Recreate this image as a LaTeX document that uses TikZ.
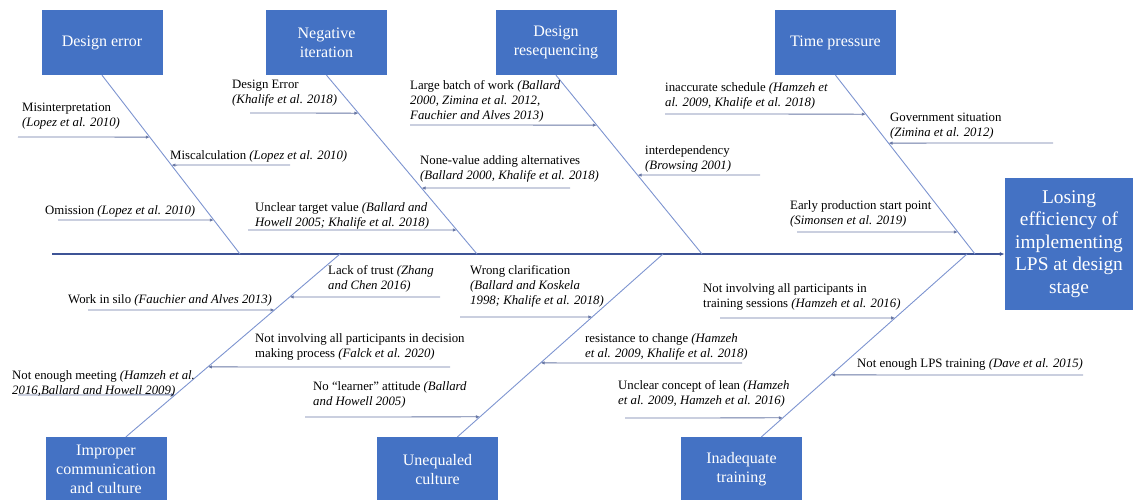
\documentclass[tikz,border=0pt]{standalone}
\usepackage{fontspec}
\setmainfont{Liberation Serif}
\usetikzlibrary{arrows.meta,calc}

\begin{document}
\begin{tikzpicture}[x=1pt,y=-1pt,
    topic/.style={fill=topiccolor, draw=none, text=white, align=center,
        minimum width=121pt, minimum height=65pt, inner sep=0pt,
        font=\fontsize{16}{19}\selectfont},
    effect/.style={topic, minimum width=128pt, minimum height=132pt,
        font=\fontsize{19.4}{22.5}\selectfont},
    cause/.style={anchor=north west, inner sep=0pt, align=left,
        font=\fontsize{12.8}{15}\selectfont},
    spine/.style={draw=spinecolor, line width=1.1pt, -{Latex[length=5pt,width=4pt]}},
    bone/.style={draw=bonecolor, line width=0.9pt},
    causeline/.style={draw=causecolor, line width=0.8pt, -{Latex[length=4pt,width=3.5pt]}}]

    % Define the colors
    \definecolor{topiccolor}{RGB}{68, 114, 196}
    \definecolor{spinecolor}{RGB}{62, 84, 150}
    \definecolor{bonecolor}{RGB}{125, 148, 208}
    \definecolor{causecolor}{RGB}{105, 120, 165}

    \useasboundingbox (0,0) rectangle (1136,499);

    % Draw the effect box and the spine
    \node[effect] (eff) at (1069,244) {Losing\\efficiency of\\implementing\\LPS at design\\stage};
    \coordinate (tail) at (52,254);
    \draw[spine] (tail) -- (tail -| eff.west);

    % Draw the category boxes
    \node[topic] (de) at (102,42.5) {Design error};
    \node[topic] (ni) at (326.5,42.5) {Negative\\iteration};
    \node[topic] (dr) at (556,42.5) {Design\\resequencing};
    \node[topic] (tp) at (835.5,42.5) {Time pressure};
    \node[topic] (ic) at (106,469.5) {Improper\\communication\\and culture};
    \node[topic] (uc) at (437.5,469.5) {Unequaled\\culture};
    \node[topic] (it) at (741.5,469.5) {Inadequate\\training};

    % Draw the bones
    \coordinate (de-end) at (240,254);
    \coordinate (ni-end) at (477,254);
    \coordinate (dr-end) at (702,254);
    \coordinate (tp-end) at (975,254);
    \coordinate (ic-root) at ($(ic.north)+(20,0)$);
    \coordinate (uc-root) at ($(uc.north)+(20,0)$);
    \coordinate (it-root) at ($(it.north)+(20,0)$);
    \coordinate (ic-end) at (340,254);
    \coordinate (uc-end) at (663,254);
    \coordinate (it-end) at (967,254);
    \draw[bone] (de.south) -- (de-end);
    \draw[bone] (ni.south) -- (ni-end);
    \draw[bone] (dr.south) -- (dr-end);
    \draw[bone] (tp.south) -- (tp-end);
    \draw[bone] (ic-root) -- (ic-end);
    \draw[bone] (uc-root) -- (uc-end);
    \draw[bone] (it-root) -- (it-end);

    % Design error
    \coordinate (de-1) at ($(de.south)!{62/179}!(de-end)$);
    \coordinate (de-2) at ($(de.south)!{90/179}!(de-end)$);
    \coordinate (de-3) at ($(de.south)!{145/179}!(de-end)$);
    \coordinate (mis-free) at (18,137);
    \coordinate (mcal-free) at (290,165);
    \coordinate (omi-free) at (58,220);
    \draw[causeline] (mis-free) -- (de-1);
    \draw[causeline] (mcal-free) -- (de-2);
    \draw[causeline] (omi-free) -- (de-3);
    \node[cause] (mis) at (22,103) {Misinterpretation\\\textit{(Lopez et al. 2010)}};
    \node[cause] (mcal) at (170,150) {Miscalculation \textit{(Lopez et al. 2010)}};
    \node[cause] (omi) at (45,205) {Omission \textit{(Lopez et al. 2010)}};

    % Negative iteration
    \coordinate (ni-1) at ($(ni.south)!{38/179}!(ni-end)$);
    \coordinate (ni-2) at ($(ni.south)!{113/179}!(ni-end)$);
    \coordinate (ni-3) at ($(ni.south)!{155/179}!(ni-end)$);
    \coordinate (der-free) at (250,113);
    \coordinate (nva-free) at (570,188);
    \coordinate (utv-free) at (248,230);
    \draw[causeline] (der-free) -- (ni-1);
    \draw[causeline] (nva-free) -- (ni-2);
    \draw[causeline] (utv-free) -- (ni-3);
    \node[cause] (der) at (232,80) {Design Error\\\textit{(Khalife et al. 2018)}};
    \node[cause] (nva) at (420,155) {None-value adding alternatives\\\textit{(Ballard 2000, Khalife et al. 2018)}};
    \node[cause] (utv) at (255,202) {Unclear target value \textit{(Ballard and}\\\textit{Howell 2005; Khalife et al. 2018)}};

    % Design resequencing
    \coordinate (dr-1) at ($(dr.south)!{50/179}!(dr-end)$);
    \coordinate (dr-2) at ($(dr.south)!{100/179}!(dr-end)$);
    \coordinate (lbw-free) at (410,125);
    \coordinate (ind-free) at (760,175);
    \draw[causeline] (lbw-free) -- (dr-1);
    \draw[causeline] (ind-free) -- (dr-2);
    \node[cause] (lbw) at (410,80) {Large batch of work \textit{(Ballard}\\\textit{2000, Zimina et al. 2012,}\\\textit{Fauchier and Alves 2013)}};
    \node[cause] (ind) at (645,145) {interdependency\\\textit{(Browsing 2001)}};

    % Time pressure
    \coordinate (tp-1) at ($(tp.south)!{39/179}!(tp-end)$);
    \coordinate (tp-2) at ($(tp.south)!{68/179}!(tp-end)$);
    \coordinate (tp-3) at ($(tp.south)!{157/179}!(tp-end)$);
    \coordinate (ias-free) at (665,114);
    \coordinate (gov-free) at (1053,143);
    \coordinate (eps-free) at (797,232);
    \draw[causeline] (ias-free) -- (tp-1);
    \draw[causeline] (gov-free) -- (tp-2);
    \draw[causeline] (eps-free) -- (tp-3);
    \node[cause] (ias) at (665,82) {inaccurate schedule \textit{(Hamzeh et}\\\textit{al. 2009, Khalife et al. 2018)}};
    \node[cause] (gov) at (890,113) {Government situation\\\textit{(Zimina et al. 2012)}};
    \node[cause] (eps) at (790,200) {Early production start point\\\textit{(Simonsen et al. 2019)}};

    % Improper communication and culture
    \coordinate (ic-1) at ($(ic-root)!{140/183}!(ic-end)$);
    \coordinate (ic-2) at ($(ic-root)!{127/183}!(ic-end)$);
    \coordinate (ic-3) at ($(ic-root)!{70/183}!(ic-end)$);
    \coordinate (ic-4) at ($(ic-root)!{42/183}!(ic-end)$);
    \coordinate (lot-free) at (440,297);
    \coordinate (wis-free) at (88,310);
    \coordinate (nip-free) at (450,367);
    \coordinate (nem-free) at (18,395);
    \draw[causeline] (lot-free) -- (ic-1);
    \draw[causeline] (wis-free) -- (ic-2);
    \draw[causeline] (nip-free) -- (ic-3);
    \draw[causeline] (nem-free) -- (ic-4);
    \node[cause] (lot) at (328,265) {Lack of trust \textit{(Zhang}\\\textit{and Chen 2016)}};
    \node[cause] (wis) at (68,294) {Work in silo \textit{(Fauchier and Alves 2013)}};
    \node[cause] (nip) at (255,333) {Not involving all participants in decision\\making process \textit{(Falck et al. 2020)}};
    \node[cause] (nem) at (12,370) {Not enough meeting \textit{(Hamzeh et al.}\\\textit{2016,Ballard and Howell 2009)}};

    % Unequaled culture
    \coordinate (uc-1) at ($(uc-root)!{120/183}!(uc-end)$);
    \coordinate (uc-2) at ($(uc-root)!{74/183}!(uc-end)$);
    \coordinate (uc-3) at ($(uc-root)!{20/183}!(uc-end)$);
    \coordinate (wcl-free) at (460,317);
    \coordinate (rtc-free) at (742,363);
    \coordinate (nla-free) at (305,417);
    \draw[causeline] (wcl-free) -- (uc-1);
    \draw[causeline] (rtc-free) -- (uc-2);
    \draw[causeline] (nla-free) -- (uc-3);
    \node[cause] (wcl) at (470,265) {Wrong clarification\\\textit{(Ballard and Koskela}\\\textit{1998; Khalife et al. 2018)}};
    \node[cause] (rtc) at (585,333) {resistance to change \textit{(Hamzeh}\\\textit{et al. 2009, Khalife et al. 2018)}};
    \node[cause] (nla) at (313,381) {No ``learner'' attitude \textit{(Ballard}\\\textit{and Howell 2005)}};

    % Inadequate training
    \coordinate (it-1) at ($(it-root)!{119/183}!(it-end)$);
    \coordinate (it-2) at ($(it-root)!{62/183}!(it-end)$);
    \coordinate (it-3) at ($(it-root)!{19/183}!(it-end)$);
    \coordinate (nis-free) at (720,318);
    \coordinate (nel-free) at (1083,375);
    \coordinate (ucl-free) at (625,418);
    \draw[causeline] (nis-free) -- (it-1);
    \draw[causeline] (nel-free) -- (it-2);
    \draw[causeline] (ucl-free) -- (it-3);
    \node[cause] (nis) at (703,283) {Not involving all participants in\\training sessions \textit{(Hamzeh et al. 2016)}};
    \node[cause] (nel) at (857,358) {Not enough LPS training \textit{(Dave et al. 2015)}};
    \node[cause] (ucl) at (618,380) {Unclear concept of lean \textit{(Hamzeh}\\\textit{et al. 2009, Hamzeh et al. 2016)}};

\end{tikzpicture}
\end{document}
